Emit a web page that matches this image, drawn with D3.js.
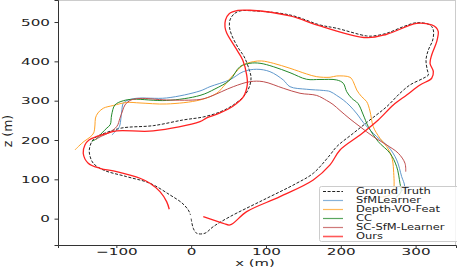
<!DOCTYPE html>
<html>
<head>
<meta charset="utf-8">
<script src="https://cdn.jsdelivr.net/npm/d3@7"></script>
<style>
  body { margin: 0; background: #fff; }
  text { font-family: "DejaVu Sans", sans-serif; fill: #222; }
</style>
</head>
<body>
<svg width="457" height="268"></svg>
<script>
// trajectories, [x (m), z (m)]
const groundTruth = [[0,0],[2.8,-24.4],[7.4,-37.1],[18.4,-37.1],[29.5,-20.3],[51.9,5.1],[96.4,47.5],[141,90],[163.2,115.4],[185.6,162],[194.5,183.1],[216.7,217.1],[239,251],[261.4,284.8],[279.1,318.8],[292.5,340],[310.3,357],[317,365.4],[315.6,378.1],[313.9,403.5],[317,428.9],[322.9,454.3],[323.7,479.7],[319.3,492.4],[301.5,498.3],[283.6,488.2],[261.4,471.4],[243.4,464.5],[234.6,464.5],[194.5,484.1],[172.2,492.5],[132.1,517.9],[78.6,528.9],[65.2,528.1],[57.2,520.5],[51.9,505.2],[51.2,487.4],[54.1,467],[63,434],[71,411.1],[77.7,378.1],[80,360.3],[78.6,340],[71.9,314.5],[56.3,289.1],[38.5,271.3],[16.2,258.6],[-10.6,251],[-50.7,236.5],[-92.5,230.6],[-114.8,217.9],[-126.3,208.5],[-132.6,196.8],[-136.2,174.7],[-135.3,159.4],[-130.9,140.9],[-117.5,123.8],[-86.2,106.8],[-55.1,90],[-28.3,60.3],[-12.3,39.9],[-3.9,22.1],[-0.9,9.4]];

const sfmLearner = [[-105.9,212.8],[-101.2,221.7],[-96.9,230.6],[-95.2,238.2],[-92.9,271.3],[-90.8,293.4],[-85.8,300.5],[-72.9,306.1],[-32.8,306.9],[11.8,324.7],[25.1,335.6],[51.9,353.4],[69.7,373.8],[87.6,379.9],[105.3,373.8],[123.1,352.7],[132.1,335.6],[154.4,329],[176.6,326],[185.6,323.4],[194.5,313.3],[203.3,301.8],[212.3,286.6],[221.7,266.2],[230.1,244.6],[248,208.5],[263.5,183.1],[274.7,149.3],[281.4,106.8],[285.2,83.1],[281.9,70.4]];

const depthVoFeat = [[-155.3,174.7],[-150.4,184.1],[-143.3,196.3],[-135.3,207],[-130.3,217.9],[-128.6,238.2],[-127.9,256],[-124.6,268.8],[-117.5,280.7],[-104.1,287.8],[-86.2,295.4],[-68.4,294.2],[-32.8,291.6],[11.8,301.8],[34.1,318.8],[42.9,335.6],[49.9,351.4],[56.3,365.4],[69.7,390.8],[83,399.2],[94.2,401],[109.8,395.1],[132.1,382.4],[154.4,367.9],[167.8,361],[185.6,359.5],[194.5,362.8],[212.3,359.5],[216.7,348.3],[221.3,327.2],[227.9,310.2],[234.6,297.5],[239,273.8],[243.4,233.9],[252.4,204.4],[261.4,183.1],[268,157.6],[270.5,123.8],[269.8,67.9],[264.4,59],[249.7,53.9]];

const cc = [[-132.6,196.8],[-125.9,203.9],[-119.3,217.9],[-112.6,230.6],[-108.2,239],[-106.3,263.7],[-101.9,289.1],[-90.8,299.8],[-77.4,303.6],[-32.8,300.5],[11.8,313.3],[31.8,329.8],[51.9,352.7],[65.2,386.5],[78.6,395.1],[92,395.1],[109.8,386.5],[132.1,371.2],[154.4,354.4],[172.2,353.9],[194.5,352.7],[203.3,344.3],[207.9,322.9],[214.6,306.1],[223,292.9],[230.1,263.7],[236.8,233.9],[250.1,195.8],[265.8,166.3],[274.7,132.2],[279.1,90],[280.5,67.9],[273.8,54.4]];

const scSfmLearner = [[-128.2,200.9],[-119.3,210.3],[-110.3,217.9],[-99.2,234.9],[-95.2,255.3],[-91.8,273.8],[-88.5,289.1],[-81.8,300.5],[-68.4,305.6],[-32.8,301.8],[11.8,303.1],[25.1,310.2],[56.3,335.6],[78.6,348.3],[96.4,348.3],[123.1,331.6],[145.5,318.8],[167.8,313.3],[181.1,300.5],[189.6,290.4],[198.9,275.1],[212.3,253.5],[225.7,233.9],[243.4,208.5],[261.4,187.4],[276.9,166.3],[285.8,140.9],[286.8,119.5]];

const ours = [[16.2,5.1],[42.9,-11.7],[51.9,-16],[74.2,17.8],[118.7,55.9],[163.2,98.4],[185.6,136.6],[199,174.7],[225.7,212.8],[250.1,251],[270.2,289.1],[288.1,314.5],[305.9,340],[321.5,357],[323.7,373.8],[319.3,395.1],[321.5,416.2],[328.2,450],[330.3,475.5],[327.3,486.1],[321.5,492.5],[301.5,496.3],[261.4,468.9],[234.6,460.2],[172.2,490],[132.1,515.4],[78.6,529.9],[62.6,529.4],[50.5,520.5],[45.9,505.2],[45.2,487.4],[47.5,472.2],[58.6,436.6],[68.9,403.5],[74.2,365.4],[75,340],[69.7,309.4],[56.3,286.6],[38.5,268.8],[20.7,256.1],[11.8,246.6],[-50.7,223],[-99.6,223],[-115.2,215.4],[-125.9,209],[-136.6,200.1],[-142,187.4],[-144.3,166.3],[-137.6,140.9],[-121.9,128.1],[-99.6,119.5],[-68.4,102.7],[-55.1,90],[-41.7,68.7],[-32.8,43.2],[-29.3,23.9]];

const series = [
  { name: "Ground Truth", data: groundTruth, color: "#222", width: 1, dash: "3,1.6" },
  { name: "SfMLearner", data: sfmLearner, color: "#5f98cc", width: 1 },
  { name: "Depth-VO-Feat", data: depthVoFeat, color: "#ffa226", width: 1 },
  { name: "CC", data: cc, color: "#23892a", width: 1 },
  { name: "SC-SfM-Learner", data: scSfmLearner, color: "#bf4e4e", width: 1 },
  { name: "Ours", data: ours, color: "#ff2222", width: 1.3 }
];

const xTicks = [-100, 0, 100, 200, 300];
const zTicks = [0, 100, 200, 300, 400, 500];

const svg = d3.select("svg"),
  width = +svg.attr("width"),
  height = +svg.attr("height");

const left = 58, bottom = 245;

const x = d3.scaleLinear().domain([-178, 354]).range([left, width - 1]);
const y = d3.scaleLinear().domain([-67, 556]).range([bottom, 0]);

// light frame on top and right
svg.append("line").attr("x1", left).attr("x2", width - 1.5).attr("y1", 0.5).attr("y2", 0.5)
  .attr("stroke", "#ccc");
svg.append("line").attr("x1", width - 1.5).attr("x2", width - 1.5).attr("y1", 0).attr("y2", bottom)
  .attr("stroke", "#ccc");

const line = d3.line()
  .x(function (d) { return x(d[0]); })
  .y(function (d) { return y(d[1]); })
  .curve(d3.curveCatmullRom);

svg.append("g")
  .selectAll("path")
  .data(series)
  .enter()
  .append("path")
  .attr("d", function (d) { return line(d.data); })
  .attr("fill", "none")
  .attr("stroke", function (d) { return d.color; })
  .attr("stroke-width", function (d) { return d.width; })
  .attr("stroke-dasharray", function (d) { return d.dash || null; });

// axes
const sx = 1.6;
const xAxis = svg.append("g")
  .attr("transform", "translate(0," + bottom + ")")
  .call(d3.axisBottom(x).tickValues(xTicks).tickSize(3).tickPadding(0.5)
    .tickFormat(function (d) { return d < 0 ? "\u2212" + Math.abs(d) : d; }));
xAxis.selectAll("text")
  .attr("font-size", 9.5)
  .attr("transform", "scale(" + sx + ",1)")
  .attr("dy", "0.72em");

const yAxis = svg.append("g")
  .attr("transform", "translate(" + left + ",0)")
  .call(d3.axisLeft(y).tickValues(zTicks).tickSize(3.5).tickPadding(4));
yAxis.selectAll("text")
  .attr("font-size", 9.5)
  .attr("x", -8 / sx)
  .attr("transform", "scale(" + sx + ",1)");

[xAxis, yAxis].forEach(function (a) {
  a.select(".domain").attr("stroke", "#333");
  a.selectAll(".tick line").attr("stroke", "#333");
  a.attr("font-family", null);
});

svg.append("text")
  .attr("text-anchor", "middle")
  .attr("font-size", 9)
  .attr("transform", "translate(255,265.6) scale(1.65,1)")
  .text("x (m)");

svg.append("text")
  .attr("text-anchor", "middle")
  .attr("font-size", 12.5)
  .attr("transform", "translate(12,131) rotate(-90)")
  .text("z (m)");

// legend
const legend = svg.append("g").attr("transform", "translate(319,186)");
legend.append("rect")
  .attr("x", 0.5).attr("y", 0.5)
  .attr("width", 150).attr("height", 55)
  .attr("rx", 2)
  .attr("fill", "#fff").attr("fill-opacity", 0.8)
  .attr("stroke", "#ccc");

const item = legend.selectAll("g.item")
  .data(series)
  .enter()
  .append("g")
  .attr("class", "item")
  .attr("transform", function (d, i) { return "translate(0," + (5.5 + i * 9) + ")"; });

item.append("line")
  .attr("x1", 4).attr("x2", 24)
  .attr("stroke", function (d) { return d.color; })
  .attr("stroke-width", function (d) { return d.name === "Ours" ? 1.6 : 1.2; })
  .attr("stroke-opacity", function (d) { return d.name === "Ground Truth" ? 1 : 0.75; })
  .attr("stroke-dasharray", function (d) { return d.dash || null; });

item.append("text")
  .attr("font-size", 8.5)
  .attr("dy", "0.35em")
  .attr("transform", "translate(37,0) scale(1.35,1)")
  .text(function (d) { return d.name; });
</script>
</body>
</html>
